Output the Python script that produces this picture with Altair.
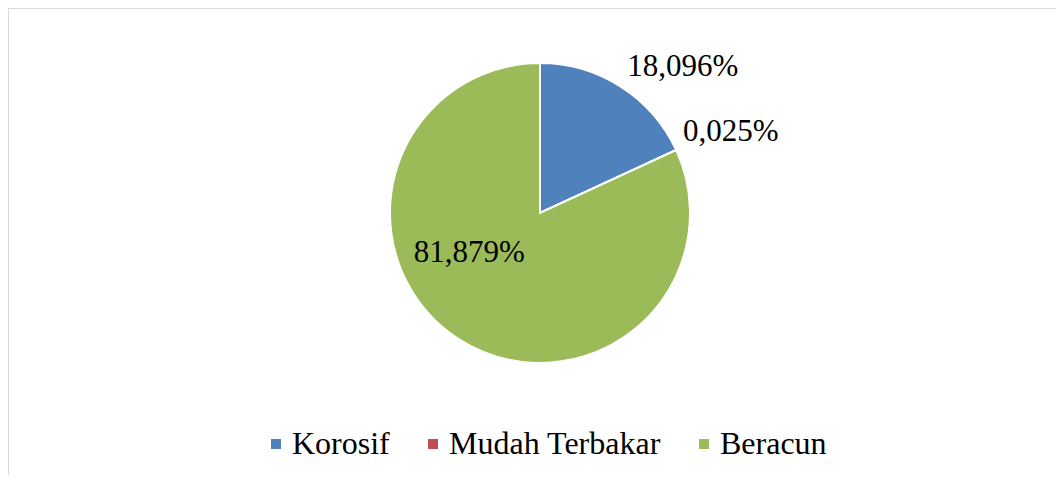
import altair as alt
import pandas as pd

categories = ["Korosif", "Mudah Terbakar", "Beracun"]
values = [18.096, 0.025, 81.879]
labels = ["18,096%", "0,025%", "81,879%"]
colors = ["#4f81bd", "#c0504d", "#9bbb59"]

df = pd.DataFrame({"kategori": categories, "nilai": values, "label": labels,
                   "urut": list(range(len(categories)))})

W, H = 1048, 467
CX, CY = 532, 205
FONT = "Liberation Serif"

base = alt.Chart(df).encode(
    theta=alt.Theta("nilai:Q", stack=True),
    order=alt.Order("urut:Q"),
)

pie = base.mark_arc(outerRadius=150, stroke="white", strokeWidth=2).encode(
    x=alt.value(CX), y=alt.value(CY),
    color=alt.Color(
        "kategori:N",
        scale=alt.Scale(domain=categories, range=colors),
        sort=categories,
        legend=alt.Legend(
            title=None, orient="none", direction="horizontal",
            legendX=252, legendY=420,
            symbolType="square", symbolSize=100, symbolStrokeWidth=0,
            labelFont=FONT, labelFontSize=32, labelColor="black",
            labelOffset=0, columnPadding=27, padding=0,
            labelLimit=400,
        ),
    ),
)

offsets = {"Korosif": (204, 33, 26), "Mudah Terbakar": (207, 3, 6), "Beracun": (81, -27, -28)}
texts = []
for cat in categories:
    r, dx, dy = offsets[cat]
    texts.append(
        base.mark_text(radius=r, dx=dx, dy=dy, font=FONT, fontSize=31, color="black")
        .encode(x=alt.value(CX), y=alt.value(CY), text="label:N",
                opacity=alt.condition(alt.datum.kategori == cat, alt.value(1), alt.value(0)))
    )

top_rule = alt.Chart(df).mark_rule(color="#d9d9d9", strokeWidth=2).encode(
    x=alt.value(0), x2=alt.value(W), y=alt.value(0))
left_rule = alt.Chart(df).mark_rule(color="#d9d9d9", strokeWidth=2).encode(
    x=alt.value(0), y=alt.value(0), y2=alt.value(H))

chart = alt.layer(top_rule, left_rule, pie, *texts).properties(
    width=W, height=H,
    autosize=alt.AutoSizeParams(type="none"),
    padding=0,
).configure_view(stroke=None).configure(background="white")

chart.save("out.html", embed_options={"renderer": "svg", "actions": False})
